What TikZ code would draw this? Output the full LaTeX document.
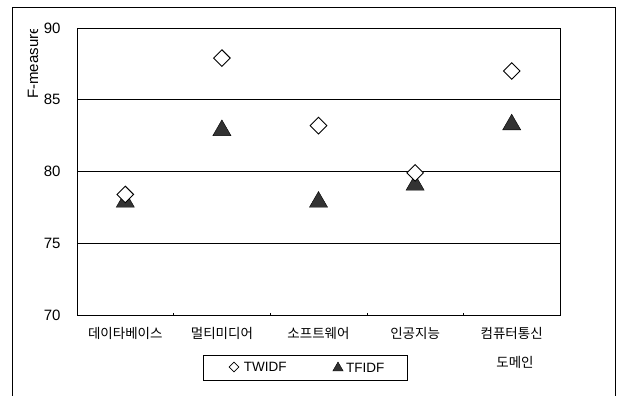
\documentclass[tikz,border=0pt]{standalone}
\usepackage{fontspec}
\setmainfont{Liberation Sans}
\newfontfamily\krfont{Noto Sans CJK KR}
\usetikzlibrary{shapes.geometric,positioning}

\begin{document}
\begin{tikzpicture}[x=1pt,y=1pt,
	tw/.style={shape=diamond,draw=black,fill=white,line width=0.9pt,inner sep=0pt,minimum width=17pt,minimum height=17pt},
	tf/.style={shape=regular polygon,regular polygon sides=3,draw=black,fill=black!80,inner sep=0pt,minimum size=21pt},
	ylab/.style={anchor=east,font=\fontsize{15}{17}\selectfont},
	cat/.style={font=\krfont\fontsize{13.5}{16}\selectfont},
	grid line/.style={draw=black,line width=0.8pt}]
	\useasboundingbox (0,0) rectangle (621,396);
	\draw[line width=0.6pt] (12,-2) -- (12,389) -- (615,389) -- (615,-2);

	% plot area and horizontal lines
	\draw[grid line] (77,81) rectangle (560,368);
	\draw[grid line] (77,152.75) -- (560,152.75);
	\draw[grid line] (77,224.5) -- (560,224.5);
	\draw[grid line] (77,296.25) -- (560,296.25);
	\draw[line width=0.5pt] (173.6,81) -- (173.6,83);
	\draw[line width=0.5pt] (270.2,81) -- (270.2,83);
	\draw[line width=0.5pt] (366.8,81) -- (366.8,83);
	\draw[line width=0.5pt] (463.4,81) -- (463.4,83);

	\node[ylab] (y70) at (64,81)     {70};
	\node[ylab] (y75) at (64,152.75) {75};
	\node[ylab] (y80) at (64,224.5)  {80};
	\node[ylab] (y85) at (64,296.25) {85};
	\node[ylab] (y90) at (64,368)    {90};
	\begin{scope}
		\clip (0,0) rectangle (77,366);
		\node[rotate=90,anchor=west,inner sep=0pt,font=\fontsize{15}{17}\selectfont] (fm) at (33,297) {F-measure};
	\end{scope}

	\node[cat] (c1) at (125.3,63) {데이타베이스};
	\node[cat] (c2) at (221.9,63) {멀티미디어};
	\node[cat] (c3) at (318.5,63) {소프트웨어};
	\node[cat] (c4) at (415.1,63) {인공지능};
	\node[cat] (c5) at (511.7,63) {컴퓨터통신};

	% TFIDF
	\node[tf] (t1) at (125.3,194) {};
	\node[tf] (t2) at (221.9,265.6) {};
	\node[tf] (t3) at (318.5,194) {};
	\node[tf] (t4) at (415.1,211) {};
	\node[tf] (t5) at (511.7,271.3) {};
	% TWIDF
	\node[tw] (d1) at (125.3,201.5) {};
	\node[tw] (d2) at (221.9,337.9) {};
	\node[tw] (d3) at (318.5,270.4) {};
	\node[tw] (d4) at (415.1,223.1) {};
	\node[tw] (d5) at (511.7,325) {};

	% legend
	\draw[line width=0.6pt] (203,16) rectangle (407,41);
	\node[tw,minimum width=10pt,minimum height=10pt,line width=0.7pt] (kd) at (234,29) {};
	\node[right=1pt of kd,font=\fontsize{13.5}{15}\selectfont] (ld) {TWIDF};
	\node[tf,minimum size=12pt] (kt) at (338,28) {};
	\node[right=1pt of kt,font=\fontsize{13.5}{15}\selectfont] (lt) {TFIDF};

	\node[cat] (dom) at (515,34) {도메인};
\end{tikzpicture}
\end{document}
